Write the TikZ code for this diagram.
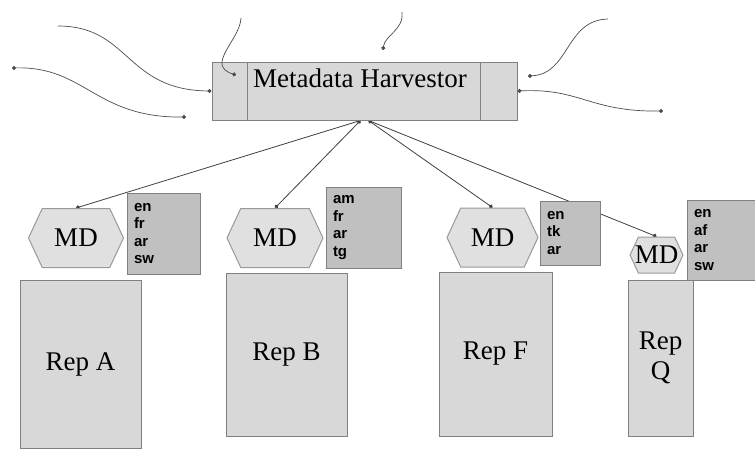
\documentclass[tikz,border=0pt]{standalone}
\usepackage{fontspec}
\setmainfont{Liberation Serif}
\newfontfamily\langfont{Liberation Sans}
\usetikzlibrary{shapes,arrows.meta,positioning,backgrounds}
\definecolor{boxgray}{RGB}{216,216,216}
\definecolor{langgray}{RGB}{192,192,192}
\definecolor{edgegray}{RGB}{128,128,128}
\definecolor{mdgray}{RGB}{224,224,224}
\tikzstyle{link} = [draw=black!75, line width=0.8pt, {Circle[length=4pt]}-{Circle[length=4pt]}]
\tikzstyle{feed} = [draw=black!70, line width=0.7pt, -{Circle[length=4pt]}]
\tikzstyle{harvbox} = [rectangle, draw=edgegray, fill=boxgray, line width=1pt,
    minimum width=305pt, minimum height=58pt]
\tikzstyle{repbox} = [rectangle, draw=edgegray, fill=boxgray, line width=1pt,
    font=\fontsize{27}{30}\selectfont, align=center]
\tikzstyle{langbox} = [rectangle, draw=edgegray, fill=langgray, line width=1pt,
    inner xsep=7pt, align=left, font=\langfont\bfseries\fontsize{15}{17.5}\selectfont]
\tikzstyle{md} = [signal, signal to=east and west, signal pointer angle=130,
    draw=black!40, fill=mdgray, line width=1pt, inner sep=0pt,
    font=\fontsize{27}{30}\selectfont]

\begin{document}
\begin{tikzpicture}[x=1pt, y=-1pt]
\useasboundingbox (0,0) rectangle (755,448);

% harvester
\node (harv) [harvbox] at (364.5,91) {};
\draw [edgegray, line width=1pt] ([xshift=36pt]harv.north west) -- ([xshift=36pt]harv.south west);
\draw [edgegray, line width=1pt] ([xshift=-37pt]harv.north east) -- ([xshift=-37pt]harv.south east);
\node (harvtext) [font=\fontsize{27}{30}\selectfont, inner sep=0pt] at (360,78) {Metadata Harvestor};

% repositories
\node (repA) [repbox, minimum width=121pt, minimum height=168pt] at (80.5,364) {Rep A};
\node (repB) [repbox, minimum width=121pt, minimum height=163pt] at (286.5,354.5) {Rep B};
\node (repF) [repbox, minimum width=113pt, minimum height=164pt] at (495.5,354) {Rep F};
\node (repQ) [repbox, minimum width=65pt, minimum height=156pt] at (660.5,358) {Rep\\Q};

% metadata
\node (mdA) [md, minimum width=95pt, minimum height=59pt] at (76,238) {MD};
\node (mdB) [md, minimum width=96pt, minimum height=59pt] at (275,238) {MD};
\node (mdF) [md, minimum width=91pt, minimum height=59pt] at (492.5,237.5) {MD};
\node (mdQ) [md, minimum width=53pt, minimum height=36pt, inner xsep=-12pt] at (656.5,255) {MD};

% languages
\node (langA) [langbox, minimum width=73pt, minimum height=81pt, text width=59pt] at (163.5,233.5) {en\\fr\\ar\\sw};
\node (langB) [langbox, minimum width=75pt, minimum height=81pt, text width=61pt] at (363.5,227.5) {am\\fr\\ar\\tg};
\node (langF) [langbox, minimum width=60pt, minimum height=64pt, text width=46pt] at (570,233) {en\\tk\\ar};
\node (langQ) [langbox, minimum width=75pt, minimum height=80pt, text width=61pt] at (724.5,240) {en\\af\\ar\\sw};

% harvesting links
\begin{scope}[on background layer]
\draw [link] ([xshift=-4pt]harv.south) -- (mdA.north);
\draw [link] ([xshift=-4pt]harv.south) -- (mdB.north);
\draw [link] ([xshift=4pt]harv.south) -- (mdF.north);
\draw [link] ([xshift=4pt]harv.south) -- (mdQ.north);
\end{scope}

% outside feeds
\coordinate (f1) at (58,26);
\coordinate (f2a) at (12,68);
\coordinate (f2b) at (186,117);
\coordinate (f3a) at (241,18);
\coordinate (f3b) at (236,75);
\coordinate (f4a) at (402,12);
\coordinate (f4b) at (383,50);
\coordinate (f5a) at (608,19);
\coordinate (f5b) at (528,76);
\coordinate (f6) at (663,111);
\draw [feed] (f1) .. controls (130,26) and (125,90) .. (harv.west);
\draw [feed, {Circle[length=4pt]}-{Circle[length=4pt]}] (f2a) .. controls (85,66) and (95,118) .. (f2b);
\draw [feed] (f3a) .. controls (240,40) and (205,65) .. (f3b);
\draw [feed] (f4a) .. controls (404,30) and (385,35) .. (f4b);
\draw [feed] (f5a) .. controls (565,20) and (570,74) .. (f5b);
\draw [feed, {Circle[length=4pt]}-{Circle[length=4pt]}] (harv.east) .. controls (580,88) and (590,112) .. (f6);
\end{tikzpicture}
\end{document}
